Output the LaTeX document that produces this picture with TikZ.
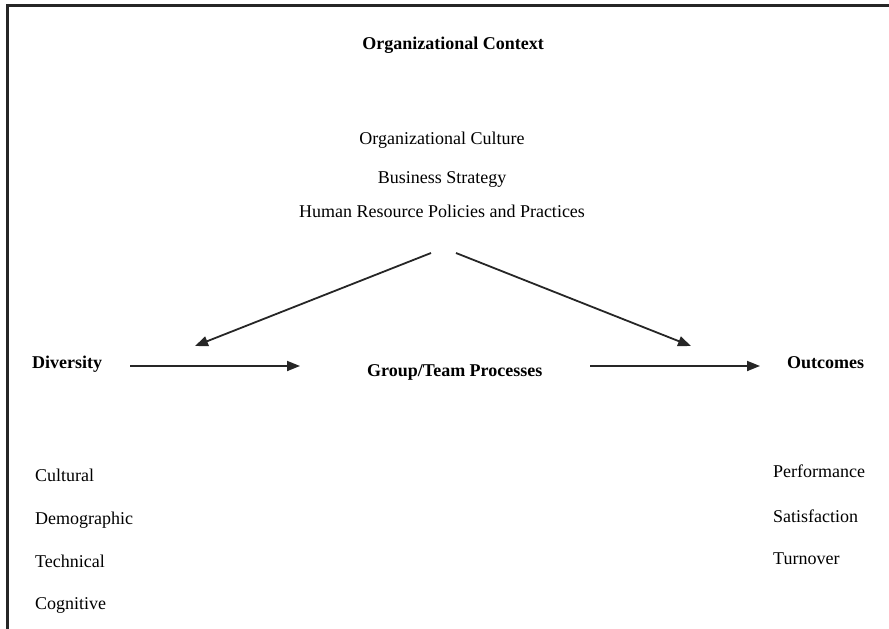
\documentclass[tikz,border=0pt]{standalone}
\usepackage{fontspec}
\setmainfont{Liberation Serif}
\usetikzlibrary{arrows.meta}
\begin{document}
\begin{tikzpicture}[x=1pt,y=-1pt,
  lbl/.style={inner sep=0pt, font=\fontsize{18}{20}\selectfont, text height=0.7em, text depth=0.2em},
  blbl/.style={lbl, font=\fontsize{18}{20}\selectfont\bfseries},
  arr/.style={line width=1.8pt, draw=black!85, -{Triangle[length=13pt,width=10pt]}},
  frame/.style={line width=3pt, draw=black!85}]
\useasboundingbox (0,0) rectangle (889,629);
\draw[frame] (7,629) -- (7,5) -- (889,5);
% header
\node[blbl] (ctx) at (453,47) {Organizational Context};
\node[lbl] (cult) at (442,142) {Organizational Culture};
\node[lbl] (strat) at (442,181) {Business Strategy};
\node[lbl] (hr) at (442,215) {Human Resource Policies and Practices};
% main row
\node[blbl, anchor=west] (div) at (32,366) {Diversity};
\node[blbl, anchor=west] (grp) at (367,374) {Group/Team Processes};
\node[blbl, anchor=west] (out) at (787,366) {Outcomes};
% arrow endpoints
\coordinate (dl0) at (431,253);
\coordinate (dl1) at (195,346);
\coordinate (dr0) at (456,253);
\coordinate (dr1) at (691,346);
\coordinate (h1a) at (130,366);
\coordinate (h1b) at (300,366);
\coordinate (h2a) at (590,366);
\coordinate (h2b) at (760,366);
\draw[arr] (dl0) -- (dl1);
\draw[arr] (dr0) -- (dr1);
\draw[arr] (h1a) -- (h1b);
\draw[arr] (h2a) -- (h2b);
% left list
\node[lbl, anchor=west] (c1) at (35,479) {Cultural};
\node[lbl, anchor=west] (c2) at (35,522) {Demographic};
\node[lbl, anchor=west] (c3) at (35,565) {Technical};
\node[lbl, anchor=west] (c4) at (35,607) {Cognitive};
% right list
\node[lbl, anchor=west] (o1) at (773,475) {Performance};
\node[lbl, anchor=west] (o2) at (773,520) {Satisfaction};
\node[lbl, anchor=west] (o3) at (773,562) {Turnover};
\end{tikzpicture}
\end{document}
